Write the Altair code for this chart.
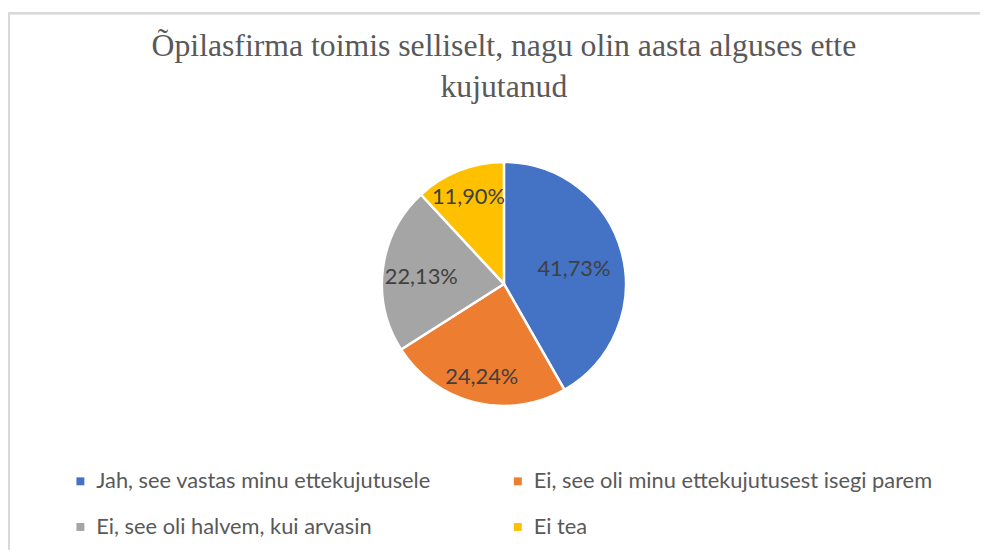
import altair as alt
import pandas as pd

categories = [
    "Jah, see vastas minu ettekujutusele",
    "Ei, see oli minu ettekujutusest isegi parem",
    "Ei, see oli halvem, kui arvasin",
    "Ei tea",
]
values = [41.73, 24.24, 22.13, 11.90]
labels = ["41,73%", "24,24%", "22,13%", "11,90%"]
colors = ["#4472C4", "#ED7D31", "#A5A5A5", "#FFC000"]
title_lines = ["Õpilasfirma toimis selliselt, nagu olin aasta alguses ette", "kujutanud"]

df = pd.DataFrame({
    "category": categories,
    "value": values,
    "label": labels,
    "idx": list(range(len(categories))),
})

# label distance from pie centre (style, per slice, like Excel "best fit")
label_radius = [73, 93, 84, 98]

W, H = 980, 542
CX, CY, R = 500, 274, 123

base = alt.Chart(df)

pie = base.mark_arc(outerRadius=R, stroke="white", strokeWidth=2.5).encode(
    theta=alt.Theta("value:Q", stack=True),
    order=alt.Order("idx:Q"),
    color=alt.Color(
        "category:N",
        scale=alt.Scale(domain=categories, range=colors),
        legend=alt.Legend(
            title=None,
            orient="none",
            legendX=62,
            legendY=462,
            direction="horizontal",
            columns=2,
            symbolType="square",
            symbolSize=64,
            symbolStrokeWidth=0,
            labelFont="Lato",
            labelFontSize=22,
            labelColor="#595959",
            labelLimit=0,
            labelOffset=5,
            rowPadding=24,
            columnPadding=76,
        ),
    ),
    x=alt.value(CX),
    y=alt.value(CY),
)

text = base.transform_joinaggregate(
    total="sum(value)"
).transform_window(
    cum="sum(value)", sort=[alt.SortField("idx", order="ascending")]
).transform_calculate(
    mid_angle="2 * PI * (datum.cum - datum.value / 2) / datum.total",
    r="[" + ",".join(str(v) for v in label_radius) + "][datum.idx]",
).mark_text(font="Lato", fontSize=22, color="#404040", dy=4).encode(
    theta=alt.Theta("mid_angle:Q", scale=None),
    radius=alt.Radius("r:Q", scale=None),
    text="label:N",
    x=alt.value(CX),
    y=alt.value(CY),
)

border_left = base.mark_rule(color="#d9d9d9", strokeWidth=2).encode(
    x=alt.value(1), y=alt.value(0), y2=alt.value(H)
)
border_top = base.mark_rule(color="#d9d9d9", strokeWidth=2).encode(
    x=alt.value(0), x2=alt.value(W), y=alt.value(1)
)

chart = alt.layer(border_left, border_top, pie, text).properties(
    width=W,
    height=H,
    autosize=alt.AutoSizeParams(type="none"),
    padding={"left": 0, "top": 2, "right": 0, "bottom": 0},
    title=alt.TitleParams(
        text=title_lines,
        font="Liberation Serif",
        fontSize=32,
        fontWeight="normal",
        color="#595959",
        anchor="middle",
        lineHeight=41,
        dx=10,
        dy=97,
    ),
).configure_view(stroke=None)

chart.save("out.html", embed_options={"renderer": "svg", "actions": False})
